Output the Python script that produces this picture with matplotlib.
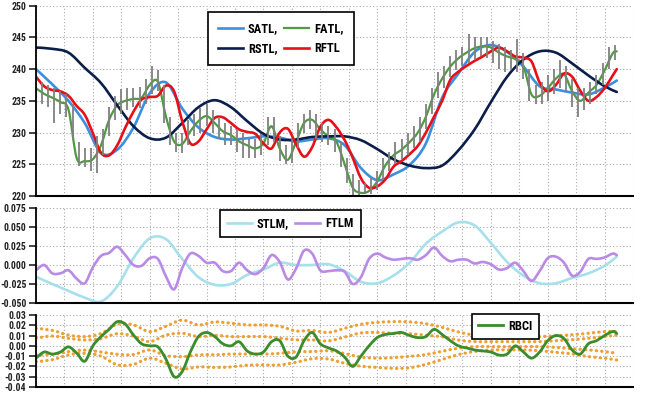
import matplotlib
matplotlib.use("Agg")
import matplotlib.pyplot as plt
import numpy as np
from matplotlib import font_manager
from matplotlib.lines import Line2D
from matplotlib.patches import PathPatch
from matplotlib.path import Path

# bar index of each sample; one grid cell = 14 bars
x_smooth = [0, 8, 16, 24, 32, 40, 48, 56, 64, 72, 80, 88, 96, 104, 112, 120, 128, 136,
            144, 152, 160, 168, 176, 184, 192, 200, 208, 216, 224, 232, 240, 248, 256,
            264, 272, 280, 286]
x_fast = list(range(0, 285, 4)) + [286]
x_bars = list(range(0, 286, 3))

bar_high = [238.5, 238.0, 237.5, 237.0, 236.5, 236.0, 234.5, 228.5, 227.5, 227.5, 229.5, 230.5,
            234.0, 235.8, 236.8, 237.0, 237.0, 237.2, 238.5, 240.5, 239.8, 237.5, 232.5, 230.0,
            230.0, 232.0, 233.0, 233.8, 234.5, 233.5, 232.5, 231.5, 231.0, 230.5, 230.0, 229.0,
            229.0, 229.8, 232.5, 232.5, 229.5, 228.0, 229.0, 231.5, 233.0, 233.5, 233.0, 231.5,
            231.0, 230.5, 228.5, 226.0, 223.5, 222.5, 222.0, 223.0, 224.0, 226.0, 227.0, 228.5,
            229.0, 230.0, 231.0, 232.5, 234.5, 237.0, 239.5, 240.5, 242.0, 243.0, 243.5, 245.5,
            245.0, 245.0, 245.0, 244.5, 244.0, 243.5, 243.0, 244.8, 242.5, 240.0, 237.5, 238.0,
            239.0, 240.0, 241.5, 240.5, 238.5, 237.0, 237.0, 238.0, 239.0, 241.0, 243.5, 243.8]
bar_low = [235.5, 234.5, 234.0, 231.5, 233.0, 232.5, 229.0, 224.8, 224.5, 224.0, 223.6, 226.5,
           229.5, 232.0, 233.0, 233.5, 234.0, 233.8, 234.5, 236.0, 236.5, 231.5, 228.0, 227.0,
           226.8, 228.0, 229.5, 230.0, 231.0, 230.0, 229.0, 228.0, 228.0, 227.0, 226.0, 226.0,
           226.0, 226.5, 228.0, 228.5, 225.5, 225.0, 225.2, 227.5, 230.0, 230.5, 229.0, 228.5,
           228.0, 227.0, 224.5, 222.0, 220.0, 220.0, 220.3, 220.3, 221.0, 222.5, 224.0, 225.0,
           225.8, 226.5, 227.5, 228.5, 230.5, 233.0, 235.5, 237.0, 238.8, 239.8, 240.5, 241.0,
           241.5, 242.0, 241.8, 241.0, 240.0, 239.5, 240.0, 239.5, 238.5, 235.0, 234.5, 234.5,
           235.0, 236.0, 237.0, 236.5, 234.0, 232.5, 233.5, 234.5, 236.0, 237.5, 240.0, 241.5]

satl = [240.0, 237.6, 235.0, 231.5, 226.8, 227.3, 230.8, 236.2, 237.9, 233.8, 230.8, 229.3,
        228.9, 229.1, 229.4, 229.2, 228.6, 228.9, 229.1, 228.0, 224.4, 222.5, 223.4, 224.9,
        228.3, 235.5, 239.3, 242.7, 243.8, 242.7, 240.4, 237.3, 236.8, 236.3, 236.0, 237.1,
        238.2]
rstl = [243.4, 243.2, 242.6, 240.2, 237.8, 234.3, 231.0, 229.1, 229.2, 231.5, 234.0, 235.1,
        234.0, 231.8, 229.8, 228.9, 228.9, 229.3, 229.4, 229.4, 228.8, 227.4, 225.8, 224.8,
        224.4, 224.8, 227.2, 230.5, 234.8, 238.8, 241.5, 242.8, 242.6, 240.9, 239.0, 237.3,
        236.4]
fatl = [237.0, 236.1, 235.5, 234.8, 233.6, 226.0, 225.5, 225.8, 228.0, 232.0, 234.3, 235.0,
        235.3, 235.5, 237.5, 238.0, 232.5, 228.6, 228.2, 230.2, 231.8, 232.6, 231.5, 230.2,
        229.6, 228.6, 228.0, 227.5, 228.3, 231.0, 227.5, 225.7, 228.5, 231.5, 232.0, 230.5,
        229.4, 228.5, 225.0, 221.3, 220.5, 220.8, 222.3, 224.8, 226.4, 227.3, 228.5, 230.0,
        232.5, 236.0, 238.5, 240.4, 241.7, 242.6, 243.3, 243.6, 243.4, 242.6, 242.0, 241.6,
        240.5, 236.0, 235.8, 237.0, 238.5, 239.2, 236.5, 235.0, 236.3, 237.5, 239.8, 242.5,
        242.8]
rftl = [238.8, 237.3, 236.7, 236.5, 235.8, 234.2, 232.8, 229.9, 226.8, 226.4, 228.0, 230.8,
        233.3, 235.2, 235.6, 235.8, 237.4, 236.5, 231.8, 228.3, 228.6, 230.5, 232.3, 232.4,
        231.5, 230.5, 230.1, 229.8, 228.3, 227.5, 230.0, 230.6, 228.2, 226.2, 227.7, 230.9,
        232.0, 230.8, 228.8, 226.0, 222.8, 221.3, 221.5, 222.6, 224.6, 225.5, 226.6, 227.9,
        230.0, 232.5, 235.0, 238.3, 239.6, 240.5, 241.3, 242.0, 242.8, 243.4, 242.8, 242.0,
        241.8, 241.2, 237.9, 236.5, 237.5, 239.3, 238.8, 236.6, 235.0, 235.6, 237.0, 239.0,
        240.0]

stlm = [-0.0155, -0.025, -0.034, -0.043, -0.048, -0.028, 0.009, 0.035, 0.034, 0.008, -0.016,
        -0.026, -0.025, -0.013, -0.006, 0.003, 0.000, 0.000, 0.001, -0.008, -0.022, -0.024,
        -0.014, 0.003, 0.028, 0.044, 0.056, 0.052, 0.029, 0.004, -0.014, -0.024, -0.024,
        -0.017, -0.011, -0.001, 0.011]
ftlm = [-0.007, 0.000, -0.011, -0.011, -0.007, -0.018, -0.024, -0.003, 0.012, 0.016, 0.024,
        0.013, 0.000, -0.001, 0.009, 0.008, -0.015, -0.032, -0.004, 0.015, 0.012, 0.003, 0.003,
        -0.008, -0.008, 0.003, -0.007, -0.012, -0.004, 0.013, 0.004, -0.019, -0.005, 0.019,
        0.015, -0.007, -0.008, -0.007, -0.009, -0.025, -0.016, 0.008, 0.015, 0.010, 0.007,
        0.008, 0.009, 0.007, 0.013, 0.023, 0.012, 0.005, 0.007, 0.007, 0.002, 0.004, 0.001,
        -0.006, -0.004, 0.003, -0.008, -0.021, -0.008, 0.009, 0.011, 0.003, -0.014, -0.009,
        0.008, 0.008, 0.010, 0.015, 0.013]

rbci = [-0.012, -0.006, -0.008, -0.006, -0.001, -0.007, -0.015, 0.000, 0.009, 0.016, 0.0235,
        0.021, 0.0105, 0.002, 0.000, -0.001, -0.013, -0.030, -0.025, -0.006, 0.009, 0.013,
        0.009, 0.002, 0.000, 0.004, -0.005, -0.008, -0.006, 0.004, 0.005, -0.010, -0.011,
        0.005, 0.013, 0.002, -0.002, -0.005, -0.011, -0.020, -0.010, 0.000, 0.008, 0.011,
        0.012, 0.013, 0.010, 0.008, 0.009, 0.016, 0.011, 0.005, 0.000, -0.002, -0.004, -0.005,
        -0.006, -0.009, -0.008, 0.000, -0.006, -0.012, -0.006, 0.005, 0.010, 0.007, -0.004,
        -0.008, 0.002, 0.005, 0.010, 0.014, 0.012]
band_up2 = [0.017, 0.015, 0.0105, 0.009, 0.012, 0.021, 0.0203, 0.0138, 0.019, 0.025, 0.0203,
            0.0232, 0.022, 0.0203, 0.0203, 0.019, 0.0145, 0.015, 0.013, 0.017, 0.021, 0.0228,
            0.0235, 0.0233, 0.0215, 0.018, 0.0135, 0.0105, 0.0105, 0.010, 0.009, 0.009,
            0.0098, 0.0108, 0.0122, 0.0138, 0.0138]
band_up1 = [0.0075, 0.0095, 0.0073, 0.0057, 0.007, 0.0118, 0.0095, 0.0041, 0.0105, 0.0122,
            0.009, 0.0102, 0.009, 0.009, 0.009, 0.0075, 0.0058, 0.0057, 0.0048, 0.0085, 0.0125,
            0.013, 0.0122, 0.0118, 0.0103, 0.0088, 0.0056, 0.0041, 0.0041, 0.0041, 0.0041,
            0.0041, 0.005, 0.006, 0.0073, 0.009, 0.0105]
band_dn1 = [-0.0088, -0.0085, -0.0056, -0.0042, -0.006, -0.0082, -0.0085, -0.004, -0.0095,
            -0.0105, -0.0088, -0.0087, -0.008, -0.008, -0.008, -0.0073, -0.0058, -0.0056,
            -0.0048, -0.0075, -0.011, -0.012, -0.0115, -0.0102, -0.0085, -0.0053, -0.0023,
            -0.0008, -0.0008, -0.0008, -0.0008, -0.0008, -0.0015, -0.0028, -0.004, -0.0056,
            -0.0073]
band_dn2 = [-0.0154, -0.0135, -0.0088, -0.0073, -0.010, -0.0185, -0.018, -0.012, -0.017,
            -0.0225, -0.0205, -0.021, -0.0205, -0.0188, -0.0186, -0.0186, -0.016, -0.0125,
            -0.0128, -0.017, -0.0198, -0.021, -0.0219, -0.0213, -0.018, -0.0133, -0.0085,
            -0.0055, -0.004, -0.004, -0.004, -0.0048, -0.0063, -0.0078, -0.0105, -0.012,
            -0.0138]

price_ticks = [220, 225, 230, 235, 240, 245, 250]
lm_ticks = [-0.050, -0.025, 0.000, 0.025, 0.050, 0.075]
rbci_ticks = [-0.04, -0.03, -0.02, -0.01, 0.00, 0.01, 0.02, 0.03]

names = {f.name for f in font_manager.fontManager.ttflist}
font = "DejaVu Sans"
for cand in ["DejaVu Sans Condensed", "Liberation Sans Narrow", "Roboto Condensed"]:
    if cand in names:
        font = cand
        break
plt.rcParams["font.family"] = font
plt.rcParams["font.weight"] = "bold"

fig = plt.figure(figsize=(6.5, 3.95), dpi=100)
ax1 = fig.add_axes([0.0554, 0.5038, 0.9185, 0.4818])
ax2 = fig.add_axes([0.0554, 0.2329, 0.9185, 0.2405])
ax3 = fig.add_axes([0.0554, 0.0203, 0.9185, 0.1823])


def style(ax, ticks, fmt):
    ax.set_xlim(0, 294)
    ax.set_ylim(ticks[0], ticks[-1])
    ax.set_yticks(ticks)
    ax.set_yticklabels([fmt.format(t) for t in ticks])
    ax.set_xticks(range(0, 295, 14))
    ax.tick_params(axis="x", length=0, labelbottom=False)
    ax.tick_params(axis="y", length=5, width=1.2, labelsize=7, colors="#222222", pad=2)
    ax.grid(True, color="#aaaaaa", linestyle=(0, (1, 2)), linewidth=0.8)
    ax.spines["top"].set_visible(False)
    ax.spines["right"].set_visible(False)
    ax.spines["left"].set_linewidth(1.3)
    ax.spines["bottom"].set_linewidth(1.5)
    ax.set_axisbelow(True)


def curve(ax, x, y, **kw):
    # draw the read points as a smooth bezier path (catmull-rom style handles)
    x = np.asarray(x, float)
    y = np.asarray(y, float)
    verts = [(x[0], y[0])]
    codes = [Path.MOVETO]
    for i in range(len(x) - 1):
        i0, i3 = max(i - 1, 0), min(i + 2, len(x) - 1)
        c1 = (x[i] + (x[i + 1] - x[i0]) / 6, y[i] + (y[i + 1] - y[i0]) / 6)
        c2 = (x[i + 1] - (x[i3] - x[i]) / 6, y[i + 1] - (y[i3] - y[i]) / 6)
        verts += [c1, c2, (x[i + 1], y[i + 1])]
        codes += [Path.CURVE4] * 3
    ax.add_patch(PathPatch(Path(verts, codes), fill=False, capstyle="round",
                           joinstyle="round", **kw))
    return Line2D([], [], color=kw.get("edgecolor"), linewidth=kw.get("linewidth"),
                  linestyle=kw.get("linestyle", "-"))


style(ax1, price_ticks, "{:.0f}")
style(ax2, lm_ticks, "{:.3f}")
style(ax3, rbci_ticks, "{:.2f}")

ax1.vlines(x_bars, bar_low, bar_high, color="#808080", linewidth=1.3)
h_satl = curve(ax1, x_smooth, satl, edgecolor="#3a8fe0", linewidth=1.9)
h_fatl = curve(ax1, x_fast, fatl, edgecolor="#4f9a42", linewidth=1.6)
h_rstl = curve(ax1, x_smooth, rstl, edgecolor="#0b1e4a", linewidth=1.9)
h_rftl = curve(ax1, x_fast, rftl, edgecolor="#e81018", linewidth=1.9)

legend_kw = dict(loc="upper left", borderaxespad=0, fontsize=9, handlelength=2.0,
                 handletextpad=0.4, fancybox=False, framealpha=1, edgecolor="black")
leg1 = ax1.legend([h_satl, h_rstl, h_fatl, h_rftl], ["SATL,", "RSTL,", "FATL,", "RFTL"],
                  ncol=2, bbox_to_anchor=(0.288, 0.967), columnspacing=0.5, borderpad=0.8,
                  labelspacing=0.6, **legend_kw)
leg1.get_frame().set_linewidth(1.2)

h_stlm = curve(ax2, x_smooth, stlm, edgecolor="#a6e0ea", linewidth=1.9)
h_ftlm = curve(ax2, x_fast, ftlm, edgecolor="#b98ae6", linewidth=1.9)
leg2 = ax2.legend([h_stlm, h_ftlm], ["STLM,", "FTLM"], ncol=2, bbox_to_anchor=(0.308, 0.979),
                  columnspacing=0.5, borderpad=0.55, **legend_kw)
leg2.get_frame().set_linewidth(1.2)

for band in [band_up2, band_up1, band_dn1, band_dn2]:
    curve(ax3, x_smooth, band, edgecolor="#f0a030", linewidth=2.3, linestyle=(0, (0.1, 1.6)))
h_rbci = curve(ax3, x_fast, rbci, edgecolor="#3a8c2c", linewidth=2.0)
leg3 = ax3.legend([h_rbci], ["RBCI"], bbox_to_anchor=(0.730, 1.02), borderpad=0.5,
                  **legend_kw)
leg3.get_frame().set_linewidth(1.2)

fig.savefig("out.png", dpi=100)
